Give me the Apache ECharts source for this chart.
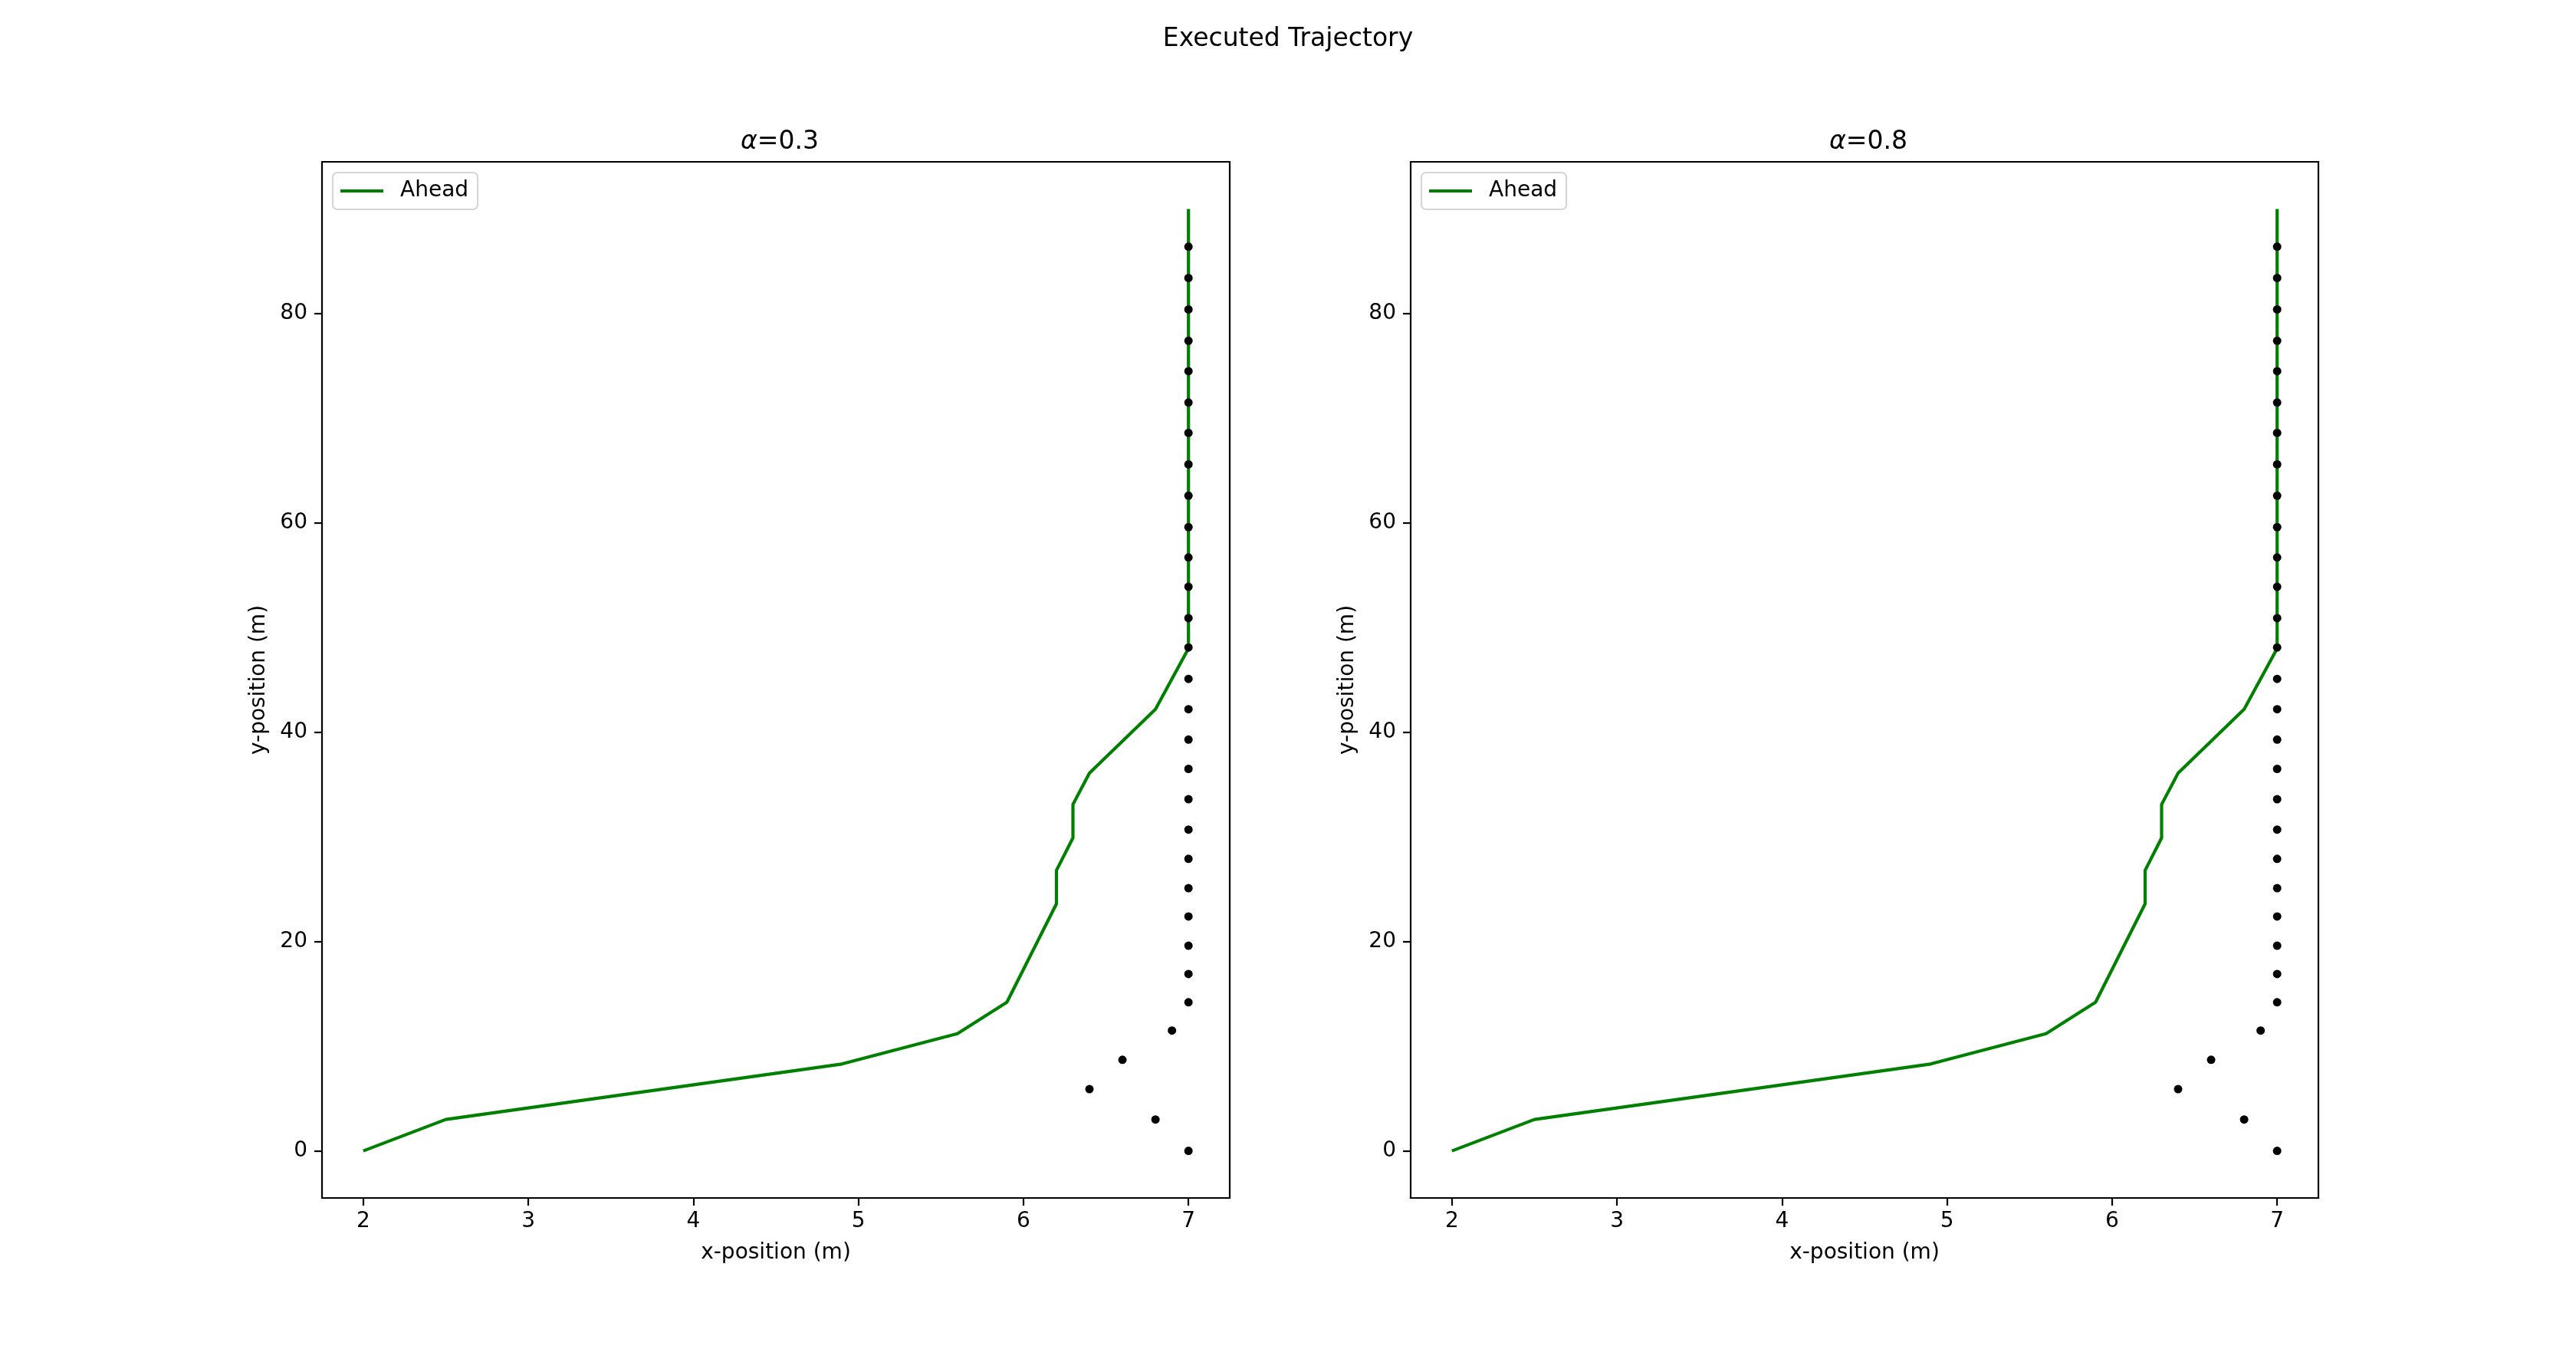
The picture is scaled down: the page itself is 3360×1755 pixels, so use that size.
<!DOCTYPE html>
<html>
<head>
<meta charset="utf-8">
<script src="https://cdn.jsdelivr.net/npm/echarts@6/dist/echarts.min.js"></script>
<style>
  html, body { margin: 0; padding: 0; background: #fff; }
  #chart { width: 3360px; height: 1755px; }
</style>
</head>
<body>
<div id="chart"></div>
<script>
// executed path (green line), same in both panels
var lineX = [2.0, 2.5, 4.9, 5.6, 5.9, 6.2, 6.2, 6.3, 6.3, 6.4, 6.8, 7.0, 7.0];
var lineY = [0, 3.0, 8.3, 11.2, 14.2, 23.6, 26.8, 29.9, 33.1, 36.1, 42.2, 48.0, 90.0];

// black waypoints
var dotX = [7.0, 6.8, 6.4, 6.6, 6.9, 7.0, 7.0, 7.0, 7.0, 7.0, 7.0, 7.0, 7.0, 7.0, 7.0, 7.0,
            7.0, 7.0, 7.0, 7.0, 7.0, 7.0, 7.0, 7.0, 7.0, 7.0, 7.0, 7.0, 7.0, 7.0, 7.0];
var dotY = [0, 3.0, 5.9, 8.7, 11.5, 14.2, 16.9, 19.6, 22.4, 25.1, 27.9, 30.7, 33.6, 36.5, 39.3, 42.2,
            45.1, 48.1, 50.9, 53.9, 56.7, 59.6, 62.6, 65.6, 68.6, 71.5, 74.5, 77.4, 80.4, 83.4, 86.4];

var xTicks = [2, 3, 4, 5, 6, 7];
var yTicks = [0, 20, 40, 60, 80];
var panelTitles = ['0.3', '0.8'];

var FONT = 'DejaVu Sans';
var gridLeft = [420, 1840];
var gridTop = 211, gridW = 1184, gridH = 1351;

function pairs(xs, ys) {
    var out = [];
    for (var i = 0; i < xs.length; i++) out.push([xs[i], ys[i]]);
    return out;
}

var dom = document.getElementById('chart');
var myChart = echarts.init(dom, null, { renderer: 'canvas' });

var option = {
    backgroundColor: '#fff',
    animation: false,
    title: [{
        text: 'Executed Trajectory',
        left: 'center',
        top: 30,
        textStyle: { fontFamily: FONT, fontSize: 33, fontWeight: 'normal', color: '#000' }
    }],
    grid: [],
    xAxis: [],
    yAxis: [],
    legend: [],
    series: []
};

for (var p = 0; p < 2; p++) {
    option.title.push({
        text: '{i|α}=' + panelTitles[p],
        left: gridLeft[p] + gridW / 2,
        textAlign: 'center',
        top: 164,
        textStyle: {
            fontFamily: FONT, fontSize: 33, fontWeight: 'normal', color: '#000',
            rich: { i: { fontFamily: FONT, fontSize: 33, fontStyle: 'italic', color: '#000' } }
        }
    });
    option.grid.push({
        left: gridLeft[p], top: gridTop, width: gridW, height: gridH,
        show: true, borderColor: '#000', borderWidth: 2.2, backgroundColor: '#fff'
    });
    option.xAxis.push({
        type: 'value', gridIndex: p, min: 1.75, max: 7.25,
        name: 'x-position (m)', nameLocation: 'middle', nameGap: 58,
        nameTextStyle: { fontFamily: FONT, fontSize: 28, color: '#000' },
        axisLine: { show: false, onZero: false },
        splitLine: { show: false },
        axisTick: { show: true, length: 10, customValues: xTicks, lineStyle: { color: '#000', width: 2.2 } },
        axisLabel: { customValues: xTicks, margin: 17, fontFamily: FONT, fontSize: 28, color: '#000' }
    });
    option.yAxis.push({
        type: 'value', gridIndex: p, min: -4.5, max: 94.5,
        name: 'y-position (m)', nameLocation: 'middle', nameGap: 68, nameRotate: 90,
        nameTextStyle: { fontFamily: FONT, fontSize: 28, color: '#000' },
        axisLine: { show: false, onZero: false },
        splitLine: { show: false },
        axisTick: { show: true, length: 10, customValues: yTicks, lineStyle: { color: '#000', width: 2.2 } },
        axisLabel: { customValues: yTicks, margin: 19, fontFamily: FONT, fontSize: 28, color: '#000' }
    });
    option.legend.push({
        data: ['Ahead'],
        left: gridLeft[p] + 14, top: gridTop + 14,
        orient: 'vertical',
        icon: 'rect', itemWidth: 56, itemHeight: 4,
        padding: [10, 12, 10, 10],
        borderColor: '#d6d6d6', borderWidth: 2.2, borderRadius: 6,
        backgroundColor: 'rgba(255,255,255,0.8)',
        selectedMode: false,
        textStyle: { fontFamily: FONT, fontSize: 28, color: '#000', padding: [0, 0, 0, 17] }
    });
    option.series.push({
        name: 'Ahead', type: 'line', xAxisIndex: p, yAxisIndex: p,
        data: pairs(lineX, lineY),
        showSymbol: false, symbol: 'none',
        lineStyle: { color: '#008000', width: 4.2 },
        itemStyle: { color: '#008000' },
        z: 2
    });
    option.series.push({
        name: 'waypoints', type: 'scatter', xAxisIndex: p, yAxisIndex: p,
        data: pairs(dotX, dotY),
        symbolSize: 11,
        itemStyle: { color: '#000', opacity: 1 },
        z: 3
    });
}

myChart.setOption(option);
</script>
</body>
</html>
